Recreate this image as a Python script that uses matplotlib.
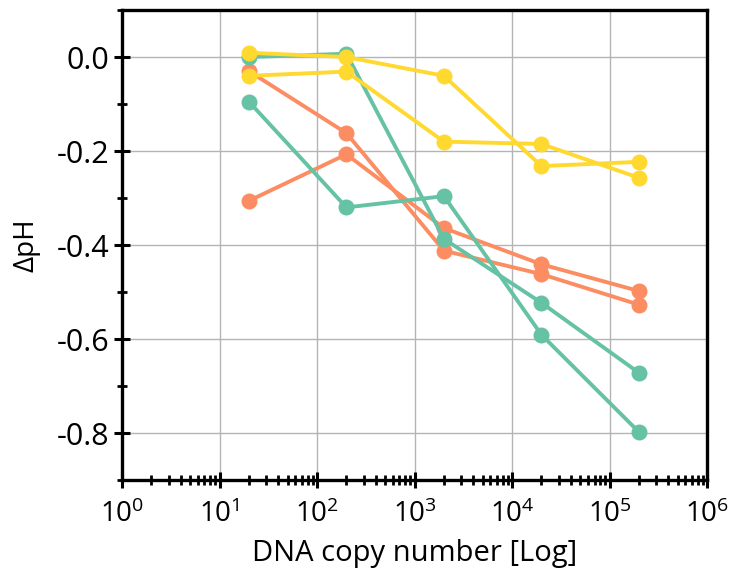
import numpy as np
import matplotlib
matplotlib.use('Agg')
import matplotlib.pyplot as plt
from matplotlib.ticker import LogLocator, MultipleLocator, FixedLocator, NullFormatter

plt.rcParams['font.family'] = ['Open Sans', 'DejaVu Sans']
plt.rcParams['mathtext.fontset'] = 'custom'
plt.rcParams['mathtext.rm'] = 'Open Sans'
plt.rcParams['mathtext.it'] = 'Open Sans'

# copy numbers
copies = [20, 200, 2000, 20000, 200000]

# delta pH, two runs per colour
orange_a = [-0.306, -0.207, -0.364, -0.441, -0.498]
orange_b = [-0.030, -0.162, -0.412, -0.462, -0.527]
green_a = [0.000, 0.007, -0.387, -0.523, -0.672]
green_b = [-0.095, -0.320, -0.296, -0.591, -0.798]
yellow_a = [0.009, 0.000, -0.040, -0.232, -0.223]
yellow_b = [-0.040, -0.031, -0.180, -0.185, -0.257]

orange = '#fc8d62'
green = '#66c2a5'
yellow = '#ffd92f'

fig = plt.figure(figsize=(7.29, 5.73), dpi=100)
ax = fig.add_axes([0.1674, 0.1623, 0.8026, 0.8202])

for ys, c in [(orange_a, orange), (orange_b, orange),
              (green_a, green), (green_b, green),
              (yellow_a, yellow), (yellow_b, yellow)]:
    ax.plot(copies, ys, '-o', color=c, lw=2.8, ms=10.5, zorder=3)

ax.set_xscale('log')
ax.set_xlim(1, 1e6)
ax.set_ylim(-0.9, 0.1)

ax.xaxis.set_minor_locator(LogLocator(base=10, subs=np.arange(2, 10), numticks=10))
ax.xaxis.set_minor_formatter(NullFormatter())
ax.set_xticks([10.0**i for i in range(7)])
ax.set_xticklabels(['$10^{%d}$' % i for i in range(7)], fontsize=20)

ax.yaxis.set_major_locator(FixedLocator([-0.8, -0.6, -0.4, -0.2, 0.0]))
ax.yaxis.set_minor_locator(MultipleLocator(0.1))
ax.set_yticklabels(['-0.8', '-0.6', '-0.4', '-0.2', '0.0'], fontsize=22)

ax.grid(True, which='major', color='#b4b4b4', lw=1)
ax.set_axisbelow(True)

for s in ax.spines.values():
    s.set_linewidth(2.4)
ax.tick_params(which='major', direction='inout', length=12, width=2.2, pad=3)
ax.tick_params(axis='x', which='major', pad=9)
ax.tick_params(which='minor', direction='inout', length=7, width=2)

ax.set_xlabel('DNA copy number [Log]', fontsize=21, labelpad=7)
ax.set_ylabel('ΔpH', fontsize=20, labelpad=12)

fig.savefig('out.png', dpi=100)
